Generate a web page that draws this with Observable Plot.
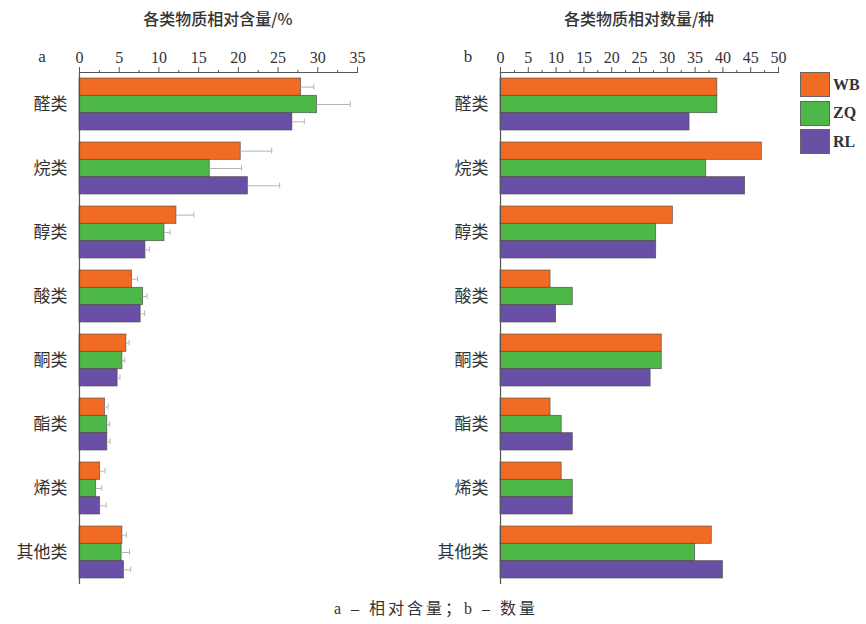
<!DOCTYPE html>
<html>
<head>
<meta charset="utf-8">
<script src="https://cdn.jsdelivr.net/npm/d3@7"></script>
<script src="https://cdn.jsdelivr.net/npm/@observablehq/plot@0.6"></script>
<style>
  body { margin: 0; background: #fff; }
  #chart { position: relative; width: 866px; height: 624px; overflow: hidden; }
  #chart svg { position: absolute; top: 0; background: transparent; }
  .lbl { position: absolute; white-space: nowrap; color: #333; }
  .title { font-family: "Noto Sans CJK SC", sans-serif; font-size: 16px; font-weight: 500; transform: translate(-50%, -50%); }
  .panel { font-family: "Liberation Serif", serif; font-size: 17px; transform: translate(-50%, -50%); }
  .caption { font-family: "Liberation Serif", "Noto Sans CJK SC", serif; font-size: 16px; letter-spacing: 3px; transform: translate(-50%, -50%); }
  .legend-item { position: absolute; display: flex; align-items: center; }
  .legend-item .box { width: 30px; height: 25px; border: 1px solid #666; box-sizing: border-box; }
  .legend-item .txt { font-family: "Liberation Serif", serif; font-weight: bold; font-size: 16px; color: #333; margin-left: 3px; }
</style>
</head>
<body>
<div id="chart"></div>
<script>
// Compound classes and sample groups
const categories = ["醛类", "烷类", "醇类", "酸类", "酮类", "酯类", "烯类", "其他类"];
const series = ["WB", "ZQ", "RL"];
const colors = ["#F26B22", "#4DB748", "#6A4FA6"];

// a: relative content (%) with error (±)
const contentWB = [27.9, 20.3, 12.2, 6.6, 5.9, 3.2, 2.6, 5.4];
const contentZQ = [29.9, 16.4, 10.7, 8.0, 5.4, 3.5, 2.1, 5.3];
const contentRL = [26.8, 21.2, 8.3, 7.7, 4.8, 3.5, 2.6, 5.6];
const errWB = [1.6, 3.9, 2.2, 0.7, 0.35, 0.4, 0.6, 0.5];
const errZQ = [4.2, 4.0, 0.7, 0.5, 0.3, 0.3, 0.7, 1.0];
const errRL = [1.5, 4.0, 0.5, 0.5, 0.3, 0.35, 0.75, 0.85];

// b: number of compounds (kinds)
const countWB = [39, 47, 31, 9, 29, 9, 11, 38];
const countZQ = [39, 37, 28, 13, 29, 11, 13, 35];
const countRL = [34, 44, 28, 10, 27, 13, 13, 40];

// Axis ticks
const ticksA = [0, 5, 10, 15, 20, 25, 30, 35];
const ticksB = [0, 5, 10, 15, 20, 25, 30, 35, 40, 45, 50];

// Group layout along y (one unit per category)
const groupPad = 0.094;
const barH = (1 - 2 * groupPad) / 3;

function rows(valueArrays, errArrays) {
  const out = [];
  categories.forEach((c, i) => {
    series.forEach((s, j) => {
      const y1 = i + groupPad + j * barH;
      out.push({
        category: c, series: s,
        value: valueArrays[j][i],
        err: errArrays ? errArrays[j][i] : 0,
        y1, y2: y1 + barH, yc: y1 + barH / 2
      });
    });
  });
  return out;
}

const dataA = rows([contentWB, contentZQ, contentRL], [errWB, errZQ, errRL]);
const dataB = rows([countWB, countZQ, countRL], null);

const serif = "'Liberation Serif', 'DejaVu Serif', serif";
const cjk = "'Noto Sans CJK SC', sans-serif";

function panel({data, domain, ticks, left, width, marginLeft, marginRight, errors}) {
  const minor = d3.range(domain[0] + 2.5, domain[1], 5);
  const marks = [
    Plot.rect(data, {x1: 0, x2: "value", y1: "y1", y2: "y2", fill: "series", stroke: "#4a4a4a", strokeWidth: 0.8, strokeOpacity: 0.8}),
  ];
  if (errors) {
    marks.push(
      Plot.ruleY(data, {x1: "value", x2: d => d.value + d.err, y: "yc", stroke: "#b5b5b5", strokeWidth: 1}),
      Plot.ruleX(data, {x: d => d.value + d.err, y1: d => d.yc - 0.045, y2: d => d.yc + 0.045, stroke: "#b5b5b5", strokeWidth: 1})
    );
  }
  marks.push(
    Plot.ruleX([0], {stroke: "#555", strokeWidth: 1.2}),
    Plot.ruleY([0], {stroke: "#555", strokeWidth: 1.2}),
    Plot.axisX({anchor: "top", ticks, tickSize: 6, tickPadding: 4, stroke: "#555", fill: "#333",
      fontFamily: serif, fontSize: 16, label: null}),
    Plot.axisX({anchor: "top", ticks: minor, tickSize: 3, tickFormat: () => "", stroke: "#555", label: null}),
    Plot.axisY({anchor: "left", ticks: categories.map((c, i) => i + 0.5),
      tickFormat: v => categories[Math.floor(v)], tickSize: 0, tickPadding: 12,
      fontFamily: cjk, fontSize: 17, fill: "#333", label: null})
  );
  const svg = Plot.plot({
    width, height: 600,
    marginTop: 72, marginBottom: 16, marginLeft, marginRight,
    x: {domain, axis: null},
    y: {domain: [0, categories.length], reverse: true, axis: null},
    color: {domain: series, range: colors},
    style: {background: "transparent", overflow: "visible"},
    marks
  });
  svg.style.left = left + "px";
  return svg;
}

const chart = document.getElementById("chart");

chart.appendChild(panel({data: dataA, domain: [0, 35], ticks: ticksA, left: 0, width: 380,
  marginLeft: 79, marginRight: 23, errors: true}));
chart.appendChild(panel({data: dataB, domain: [0, 50], ticks: ticksB, left: 420, width: 380,
  marginLeft: 80, marginRight: 22, errors: false}));

function label(cls, text, x, y) {
  const d = document.createElement("div");
  d.className = "lbl " + cls;
  d.textContent = text;
  d.style.left = x + "px";
  d.style.top = y + "px";
  chart.appendChild(d);
}

label("title", "各类物质相对含量/%", 218, 18);
label("title", "各类物质相对数量/种", 639, 18);
label("panel", "a", 42, 57);
label("panel", "b", 468, 57);
label("caption", "a – 相对含量；b – 数量", 436, 607);

// Legend
series.forEach((s, j) => {
  const item = document.createElement("div");
  item.className = "legend-item";
  item.style.left = "800px";
  item.style.top = (72 + j * 28.5) + "px";
  const box = document.createElement("div");
  box.className = "box";
  box.style.background = colors[j];
  const txt = document.createElement("span");
  txt.className = "txt";
  txt.textContent = s;
  item.appendChild(box);
  item.appendChild(txt);
  chart.appendChild(item);
});
</script>
</body>
</html>
